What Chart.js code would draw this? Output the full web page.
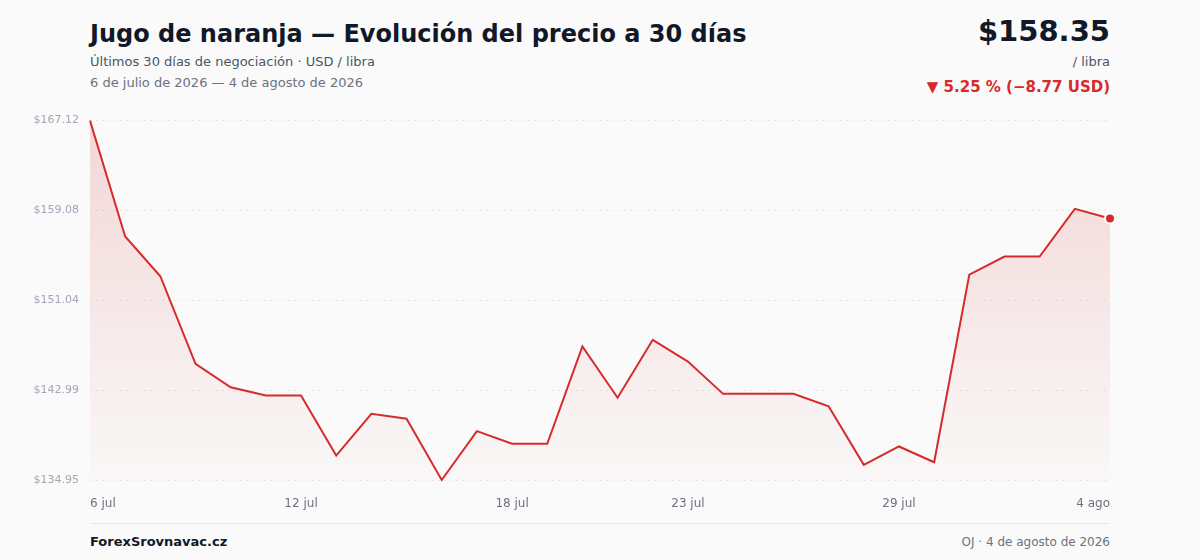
<!DOCTYPE html>
<html lang="es">
<head>
<meta charset="utf-8">
<title>Jugo de naranja — 30 días</title>
<script src="https://cdn.jsdelivr.net/npm/chart.js@4.4.1/dist/chart.umd.min.js"></script>
<style>
  html, body { margin: 0; padding: 0; background: #fafafa; }
  body { width: 1200px; height: 560px; position: relative; overflow: hidden; font-family: "DejaVu Sans", sans-serif; }
  .t { position: absolute; white-space: nowrap; line-height: 1; }
  #titulo { left: 90px; top: 22px; font-size: 24px; font-weight: bold; color: #111827; }
  #sub { left: 90px; top: 55px; font-size: 13px; color: #4b5563; }
  #fechas { left: 90px; top: 76px; font-size: 13px; color: #6b7280; }
  #precio { right: 90px; top: 17px; font-size: 29px; font-weight: bold; color: #111827; }
  #unidad { right: 90px; top: 55px; font-size: 13px; color: #4b5563; }
  #cambio { right: 90px; top: 80px; font-size: 15px; font-weight: bold; color: #d62b2b; }
  #grafico { position: absolute; left: 30px; top: 103px; width: 1097px; height: 407px; }
  #linea { position: absolute; left: 90px; top: 523px; width: 1020px; height: 1px; background: #e5e7eb; }
  #fuente { left: 90px; top: 535px; font-size: 13px; font-weight: bold; color: #111827; }
  #nota { right: 90px; top: 536px; font-size: 12px; color: #6b7280; }
</style>
</head>
<body>
  <div class="t" id="titulo">Jugo de naranja — Evolución del precio a 30 días</div>
  <div class="t" id="sub">Últimos 30 días de negociación · USD / libra</div>
  <div class="t" id="fechas">6 de julio de 2026 — 4 de agosto de 2026</div>
  <div class="t" id="precio">$158.35</div>
  <div class="t" id="unidad">/ libra</div>
  <div class="t" id="cambio">▼ 5.25 % (−8.77 USD)</div>
  <div id="grafico"><canvas id="c"></canvas></div>
  <div id="linea"></div>
  <div class="t" id="fuente">ForexSrovnavac.cz</div>
  <div class="t" id="nota">OJ · 4 de agosto de 2026</div>

<script>
// datos: días naturales del 6 jul al 4 ago
const dias = [
  '6 jul', '7 jul', '8 jul', '9 jul', '10 jul', '11 jul', '12 jul', '13 jul', '14 jul', '15 jul',
  '16 jul', '17 jul', '18 jul', '19 jul', '20 jul', '21 jul', '22 jul', '23 jul', '24 jul', '25 jul',
  '26 jul', '27 jul', '28 jul', '29 jul', '30 jul', '31 jul', '1 ago', '2 ago', '3 ago', '4 ago'
];
const precios = [
  167.12, 156.75, 153.19, 145.35, 143.25, 142.51, 142.51, 137.14, 140.87, 140.43,
  134.95, 139.32, 138.19, 138.19, 146.90, 142.31, 147.50, 145.55, 142.66, 142.66,
  142.66, 141.55, 136.31, 137.95, 136.54, 153.34, 154.95, 154.95, 159.22, 158.35
];
const etiquetasX = ['6 jul', '12 jul', '18 jul', '23 jul', '29 jul', '4 ago'];
const ticksY = [134.95, 142.99, 151.04, 159.08, 167.12];

const rojo = '#d62b2b';
const ultimo = precios.length - 1;

function relleno(context) {
  const chart = context.chart;
  const area = chart.chartArea;
  if (!area) return 'rgba(214,43,43,0.12)';
  const g = chart.ctx.createLinearGradient(0, area.top, 0, area.bottom);
  g.addColorStop(0, 'rgba(214,43,43,0.17)');
  g.addColorStop(1, 'rgba(214,43,43,0.01)');
  return g;
}

const ctx = document.getElementById('c').getContext('2d');
new Chart(ctx, {
  type: 'line',
  data: {
    labels: dias,
    datasets: [{
      data: precios,
      borderColor: rojo,
      borderWidth: 2,
      backgroundColor: relleno,
      fill: 'start',
      tension: 0,
      clip: false,
      pointRadius: c => c.dataIndex === ultimo ? 5 : 0,
      pointBackgroundColor: rojo,
      pointBorderColor: '#ffffff',
      pointBorderWidth: 2,
      pointHoverRadius: 0
    }]
  },
  options: {
    responsive: true,
    maintainAspectRatio: false,
    animation: false,
    layout: { autoPadding: false, padding: 0 },
    plugins: { legend: { display: false }, tooltip: { enabled: false } },
    scales: {
      x: {
        grid: { display: false, drawTicks: false },
        border: { display: false },
        afterFit: s => { s.height = 30; },
        ticks: {
          autoSkip: false,
          maxRotation: 0,
          align: 'inner',
          padding: 17,
          color: '#6b7280',
          font: { family: 'DejaVu Sans', size: 12 },
          callback: function (v, i) {
            const l = dias[i];
            return etiquetasX.includes(l) ? l : '';
          }
        }
      },
      y: {
        min: ticksY[0],
        max: ticksY[ticksY.length - 1],
        afterBuildTicks: s => { s.ticks = ticksY.map(v => ({ value: v })); },
        afterFit: s => { s.width = 60; },
        grid: { color: '#e3e6ea', lineWidth: 1, drawTicks: false, tickBorderDash: [2, 4] },
        border: { display: false, dash: [2, 4] },
        ticks: {
          padding: 11,
          color: '#a0a8b5',
          font: { family: 'DejaVu Sans', size: 11 },
          callback: v => '$' + Number(v).toFixed(2)
        }
      }
    }
  }
});
</script>
</body>
</html>
